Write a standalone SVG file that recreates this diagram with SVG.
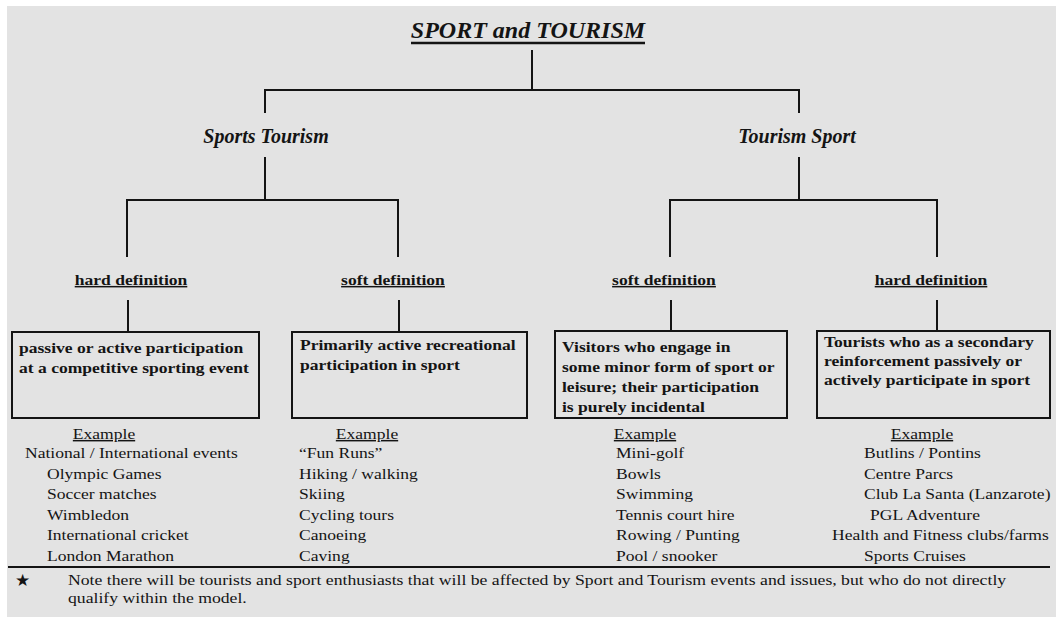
<svg xmlns="http://www.w3.org/2000/svg" width="1056" height="617" viewBox="0 0 1056 617">
<style>
text{font-family:"Liberation Serif","Times New Roman",serif;fill:#141414}
.t{font-size:24px;font-weight:bold;font-style:italic}
.h{font-size:20px;font-weight:bold;font-style:italic}
.b{font-size:15px;font-weight:bold}
.lab{font-size:15px;font-weight:bold;text-decoration:underline}
.r{font-size:15px}
.ex{font-size:15px;text-decoration:underline}
.m{text-anchor:middle}
.ln{stroke:#141414;stroke-width:2;fill:none}
.box{stroke:#141414;stroke-width:2;fill:none}
</style>
<rect x="0" y="0" width="1056" height="617" fill="#ffffff"/>
<rect x="7" y="6" width="1049" height="611" fill="#e3e3e3"/>

<g id="connectors" class="ln">
<path d="M532 50V90M265 113V90H799V113"/>
<path d="M265 157V200M127 257V200H398V257"/>
<path d="M799 157V200M670 257V200H937V257"/>
<path d="M128 300V332M399 300V332M671 300V332M937 300V332"/>
<path d="M8 567H1050"/>
</g>

<g id="title">
<text class="t m" x="528" y="38">SPORT and TOURISM</text>
<line x1="411" y1="43" x2="645" y2="43" stroke="#141414" stroke-width="2.5"/>
</g>

<g id="sports-tourism"><text class="h m" transform="translate(266 143)">Sports Tourism</text></g>
<g id="tourism-sport"><text class="h m" transform="translate(797 143)">Tourism Sport</text></g>

<g id="st-hard-label"><text class="lab m" transform="translate(131 285) scale(1.17 1)">hard definition</text></g>
<g id="st-soft-label"><text class="lab m" transform="translate(393 285) scale(1.17 1)">soft definition</text></g>
<g id="ts-soft-label"><text class="lab m" transform="translate(664 285) scale(1.17 1)">soft definition</text></g>
<g id="ts-hard-label"><text class="lab m" transform="translate(931 285) scale(1.17 1)">hard definition</text></g>

<g id="st-hard-box">
<rect class="box" x="12" y="332" width="247" height="86"/>
<text class="b" transform="translate(19 353) scale(1.17 1)">passive or active participation</text>
<text class="b" transform="translate(19 373) scale(1.17 1)">at a competitive sporting event</text>
</g>
<g id="st-soft-box">
<rect class="box" x="292" y="332" width="235" height="86"/>
<text class="b" transform="translate(300 350) scale(1.17 1)">Primarily active recreational</text>
<text class="b" transform="translate(300 370) scale(1.17 1)">participation in sport</text>
</g>
<g id="ts-soft-box">
<rect class="box" x="555" y="331" width="232" height="87"/>
<text class="b" transform="translate(562 352) scale(1.17 1)">Visitors who engage in</text>
<text class="b" transform="translate(562 372) scale(1.17 1)">some minor form of sport or</text>
<text class="b" transform="translate(562 392) scale(1.17 1)">leisure; their participation</text>
<text class="b" transform="translate(562 412) scale(1.17 1)">is purely incidental</text>
</g>
<g id="ts-hard-box">
<rect class="box" x="817" y="331" width="233" height="87"/>
<text class="b" transform="translate(824 347) scale(1.17 1)">Tourists who as a secondary</text>
<text class="b" transform="translate(824 366) scale(1.17 1)">reinforcement passively or</text>
<text class="b" transform="translate(824 385) scale(1.17 1)">actively participate in sport</text>
</g>

<g id="st-hard-examples">
<text class="ex m" transform="translate(104 439) scale(1.17 1)">Example</text>
<text class="r" transform="translate(25 458) scale(1.17 1)">National  / International events</text>
<text class="r" transform="translate(47 478.5) scale(1.17 1)">Olympic Games</text>
<text class="r" transform="translate(47 499) scale(1.17 1)">Soccer matches</text>
<text class="r" transform="translate(47 519.5) scale(1.17 1)">Wimbledon</text>
<text class="r" transform="translate(47 540) scale(1.17 1)">International cricket</text>
<text class="r" transform="translate(47 560.5) scale(1.17 1)">London Marathon</text>
</g>
<g id="st-soft-examples">
<text class="ex m" transform="translate(367 439) scale(1.17 1)">Example</text>
<text class="r" transform="translate(299 458) scale(1.17 1)">“Fun Runs”</text>
<text class="r" transform="translate(299 478.5) scale(1.17 1)">Hiking / walking</text>
<text class="r" transform="translate(299 499) scale(1.17 1)">Skiing</text>
<text class="r" transform="translate(299 519.5) scale(1.17 1)">Cycling tours</text>
<text class="r" transform="translate(299 540) scale(1.17 1)">Canoeing</text>
<text class="r" transform="translate(299 560.5) scale(1.17 1)">Caving</text>
</g>
<g id="ts-soft-examples">
<text class="ex m" transform="translate(645 439) scale(1.17 1)">Example</text>
<text class="r" transform="translate(616 458) scale(1.17 1)">Mini-golf</text>
<text class="r" transform="translate(616 478.5) scale(1.17 1)">Bowls</text>
<text class="r" transform="translate(616 499) scale(1.17 1)">Swimming</text>
<text class="r" transform="translate(616 519.5) scale(1.17 1)">Tennis court hire</text>
<text class="r" transform="translate(616 540) scale(1.17 1)">Rowing / Punting</text>
<text class="r" transform="translate(616 560.5) scale(1.17 1)">Pool / snooker</text>
</g>
<g id="ts-hard-examples">
<text class="ex m" transform="translate(922 439) scale(1.17 1)">Example</text>
<text class="r" transform="translate(864 458) scale(1.17 1)">Butlins / Pontins</text>
<text class="r" transform="translate(864 478.5) scale(1.17 1)">Centre Parcs</text>
<text class="r" transform="translate(864 499) scale(1.17 1)">Club La Santa (Lanzarote)</text>
<text class="r" transform="translate(870 519.5) scale(1.17 1)">PGL Adventure</text>
<text class="r" transform="translate(832 540) scale(1.17 1)">Health and Fitness clubs/farms</text>
<text class="r" transform="translate(864 560.5) scale(1.17 1)">Sports Cruises</text>
</g>

<g id="note">
<text x="15" y="586" style="font-family:'DejaVu Sans',sans-serif;font-size:17px">★</text>
<text class="r" transform="translate(68 585) scale(1.18 1)">Note there will be tourists and sport enthusiasts that will be affected by Sport and Tourism events and issues, but who do not directly</text>
<text class="r" transform="translate(68 603) scale(1.18 1)">qualify within the model.</text>
</g>
</svg>
